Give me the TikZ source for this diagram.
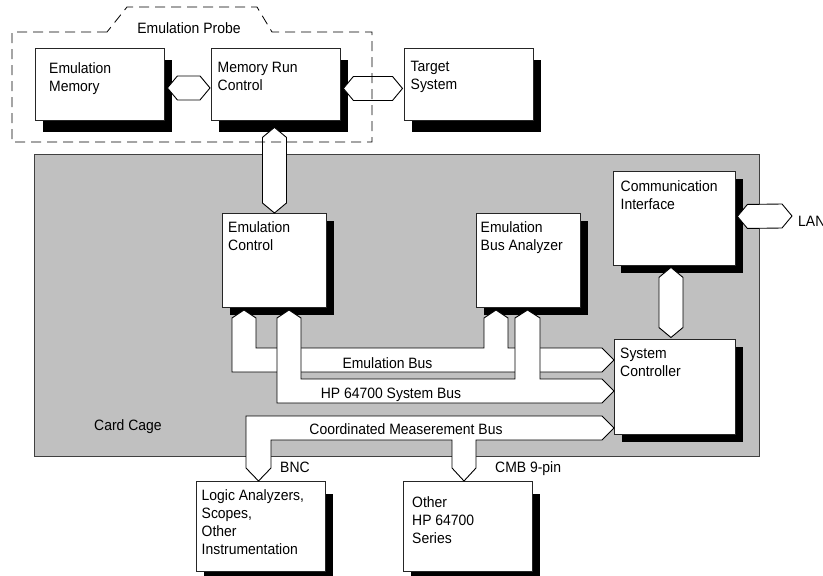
\documentclass[tikz,border=0pt]{standalone}
\usepackage{fontspec}
\setmainfont{Liberation Sans}[FakeStretch=0.93]
\usetikzlibrary{shadows,calc}
\definecolor{cagegray}{RGB}{192,192,192}
\newcommand{\headlen}{10}
% double-ended fat bus, horizontal and vertical
\newcommand{\hbus}[2]{\draw[bus] (#1) -- ($(#1)+(\headlen,-12)$) -- ($(#2)+(-\headlen,-12)$) -- (#2) -- ($(#2)+(-\headlen,12)$) -- ($(#1)+(\headlen,12)$) -- cycle;}
\newcommand{\vbus}[2]{\draw[bus] (#1) -- ($(#1)+(12,\headlen)$) -- ($(#2)+(12,-\headlen)$) -- (#2) -- ($(#2)+(-12,-\headlen)$) -- ($(#1)+(-12,\headlen)$) -- cycle;}

\begin{document}
\begin{tikzpicture}[x=1pt,y=-1pt,font=\fontsize{15pt}{18pt}\selectfont,
    blk/.style={draw=black!85, line width=.9pt, fill=white, anchor=north west, inner sep=0,
      drop shadow={shadow xshift=8pt, shadow yshift=-#1, fill=black, opacity=1}},
    blk/.default=8pt,
    bus/.style={draw=black, line width=.9pt, fill=white, line join=miter},
    txt/.style={anchor=north west, align=left, inner sep=0},
    lbl/.style={inner sep=0}]
  \useasboundingbox (0,0) rectangle (823,576);

  % card cage
  \node (cage) at (34,154) [draw=black!75, line width=.9pt, fill=cagegray, anchor=north west,
    minimum width=725pt, minimum height=302pt] {};

  % blocks
  \node (emem) at (35,48) [blk=12pt, minimum width=129pt, minimum height=72pt] {};
  \node (mrc) at (211,48) [blk=12pt, minimum width=129pt, minimum height=72pt] {};
  \node (tgt) at (404,48) [blk=12pt, minimum width=129pt, minimum height=72pt] {};
  \node (ectl) at (222,213) [blk, minimum width=104pt, minimum height=94pt] {};
  \node (eba) at (476,213) [blk, minimum width=104pt, minimum height=94pt] {};
  \node (comm) at (613,171) [blk, minimum width=122pt, minimum height=94pt] {};
  \node (sysc) at (614,339) [blk, minimum width=121pt, minimum height=95pt] {};
  \node (logic) at (196,481) [blk=13pt, minimum width=129pt, minimum height=90pt] {};
  \node (other) at (403,481) [blk=13pt, minimum width=129pt, minimum height=90pt] {};

  % buses
  \coordinate (em1) at ($(emem.east)+(2.5,3.5)$);
  \coordinate (em2) at ($(mrc.west)+(-1,3.5)$);
  \coordinate (mt1) at ($(mrc.east)+(2.5,4)$);
  \coordinate (mt2) at ($(tgt.west)+(-1.5,4)$);
  \coordinate (mc1) at ($(mrc.south)+(-1.5,6.5)$);
  \coordinate (cs1) at ($(comm.south)+(-3.5,1.5)$);
  \coordinate (cs2) at ($(sysc.north)+(-4,-1.5)$);
  \coordinate (cl1) at ($(comm.east)+(1.5,-2)$);
  \coordinate (lan) at (792,216);
  \hbus{em1}{em2}
  \hbus{mt1}{mt2}
  \hbus{cl1}{lan}
  \vbus{mc1}{ectl.north}
  \vbus{cs1}{cs2}

  \draw[bus] (232,372) -- (232,318) -- (244,310) -- (256,318) -- (256,348) -- (484,348) -- (484,318)
    -- (496,310) -- (508,318) -- (508,348) -- (602,348) -- (614,360) -- (602,372) -- cycle;
  \draw[bus] (277,403) -- (277,318) -- (289,310) -- (301,318) -- (301,379) -- (515,379) -- (515,318)
    -- (527.5,310) -- (540,318) -- (540,379) -- (602,379) -- (614,391) -- (602,403) -- cycle;
  \draw[bus] (246,416) -- (602,416) -- (614,428) -- (602,440) -- (476,440) -- (476,468) -- (464,481)
    -- (452,468) -- (452,440) -- (271,440) -- (271,468) -- (258.5,481) -- (246,468) -- cycle;

  % probe outline
  \draw[black, line width=.8pt, dash pattern=on 10pt off 6pt] (107,32) -- (12,32) -- (12,142) -- (372,142)
    -- (372,32) -- (272,32) -- (257,7) -- (127,7) -- cycle;

  % texts
  \node (emem-t) at (49,62.5) [txt] {Emulation\\Memory};
  \node (mrc-t) at (217.5,61.5) [txt] {Memory Run\\Control};
  \node (tgt-t) at (410.5,60.5) [txt] {Target\\System};
  \node (ectl-t) at (228,221) [txt] {Emulation\\Control};
  \node (eba-t) at (480.5,221) [txt] {Emulation\\Bus Analyzer};
  \node (comm-t) at (620.5,180) [txt] {Communication\\Interface};
  \node (sysc-t) at (620,347.5) [txt] {System\\Controller};
  \node (logic-t) at (201.5,489) [txt] {Logic Analyzers,\\Scopes,\\Other\\Instrumentation};
  \node (other-t) at (412,496.5) [txt] {Other\\HP 64700\\Series};

  \node (probe-l) at (189,33.3) [lbl, anchor=base] {Emulation Probe};
  \node (ebus-l) at (387.5,368.3) [lbl, anchor=base] {Emulation Bus};
  \node (hpbus-l) at (391,398.3) [lbl, anchor=base] {HP 64700 System Bus};
  \node (cmb-l) at (406,434.3) [lbl, anchor=base] {Coordinated Measerement Bus};
  \node (cage-l) at (94,430.6) [lbl, anchor=base west] {Card Cage};
  \node (bnc-l) at (280,472.3) [lbl, anchor=base west] {BNC};
  \node (pin-l) at (495,472.3) [lbl, anchor=base west] {CMB 9-pin};
  \node (lan-l) at (798,226.7) [lbl, anchor=base west] {LAN};
\end{tikzpicture}
\end{document}
